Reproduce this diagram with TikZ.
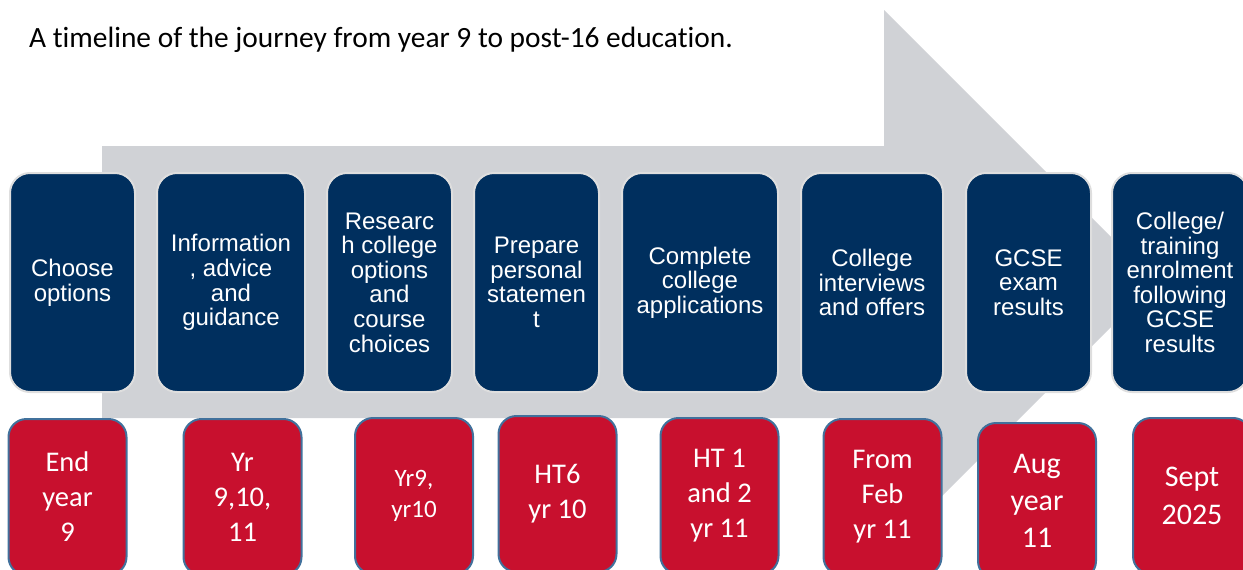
\documentclass[tikz,border=0pt]{standalone}
\usepackage{fontspec}
\setmainfont[Ligatures=NoCommon]{Carlito}
\newfontfamily\arialfont{Liberation Sans}
\usetikzlibrary{positioning}

\definecolor{arrowgrey}{RGB}{208,210,214}
\definecolor{navy}{RGB}{0,47,94}
\definecolor{navyedge}{RGB}{222,222,222}
\definecolor{datered}{RGB}{200,16,46}
\definecolor{dateedge}{RGB}{65,113,156}

\begin{document}
\begin{tikzpicture}[x=1pt,y=-1pt,
    stepbox/.style={draw=navyedge,line width=2pt,fill=navy,rounded corners=20pt,
        minimum height=219pt,inner sep=0pt,text=white,align=center,
        font=\arialfont\fontsize{24}{24.6}\selectfont},
    datebox/.style={draw=dateedge,line width=2pt,fill=datered,rounded corners=18pt,
        anchor=north,minimum width=118pt,minimum height=156pt,inner sep=0pt,
        text=white,align=center,font=\fontsize{28.5}{35}\selectfont}]
    \useasboundingbox (0,0) rectangle (1243,570);
    \clip (0,0) rectangle (1243,570);
    % title
    \node[anchor=base west,inner sep=0pt,font=\fontsize{29.4}{34}\selectfont] (title) at (29,47)
        {A timeline of the journey from year 9 to post-16 education.};
    % big arrow behind the boxes
    \fill[arrowgrey] (102,146) -- (884,146) -- (884,10) -- (1156,282) -- (884,554)
        -- (884,418) -- (102,418) -- cycle;
    % steps
    \node[stepbox,minimum width=125pt] (choose) at (72.5,282.5) {Choose\\options};
    \node[stepbox,minimum width=148pt] (iag) at (231,282.5) {Information\\, advice\\and\\guidance};
    \node[stepbox,minimum width=125pt] (research) at (389.5,282.5) {Researc\\h college\\options\\and\\course\\choices};
    \node[stepbox,minimum width=125pt] (statement) at (536.5,282.5) {Prepare\\personal\\statemen\\t};
    \node[stepbox,minimum width=156pt] (apply) at (700,282.5) {Complete\\college\\applications};
    \node[stepbox,minimum width=142pt] (interviews) at (872,282.5) {College\\interviews\\and offers};
    \node[stepbox,minimum width=125pt] (gcse) at (1028.5,282.5) {GCSE\\exam\\results};
    \node[stepbox,minimum width=136pt] (enrol) at (1180,282.5) {College/\\training\\enrolment\\following\\GCSE\\results};
    % dates
    \node[datebox] (endnine) at (67.5,418) {End\\year\\9};
    \node[datebox] (allyears) at (242.5,418) {Yr\\9,10,\\11};
    \node[datebox,font=\fontsize{25}{31}\selectfont] (nineten) at (414,417) {Yr9,\\yr10};
    \node[datebox] (htsix) at (557.5,415) {HT6\\yr 10};
    \node[datebox] (htone) at (719.5,417) {HT 1\\and 2\\yr 11};
    \node[datebox] (feb) at (882.5,418) {From\\Feb\\yr 11};
    \node[datebox,font=\fontsize{30}{37}\selectfont] (aug) at (1037,422) {Aug\\year\\11};
    \node[datebox,font=\fontsize{30}{38}\selectfont] (sept) at (1192,417) {Sept\\2025};
\end{tikzpicture}
\end{document}
